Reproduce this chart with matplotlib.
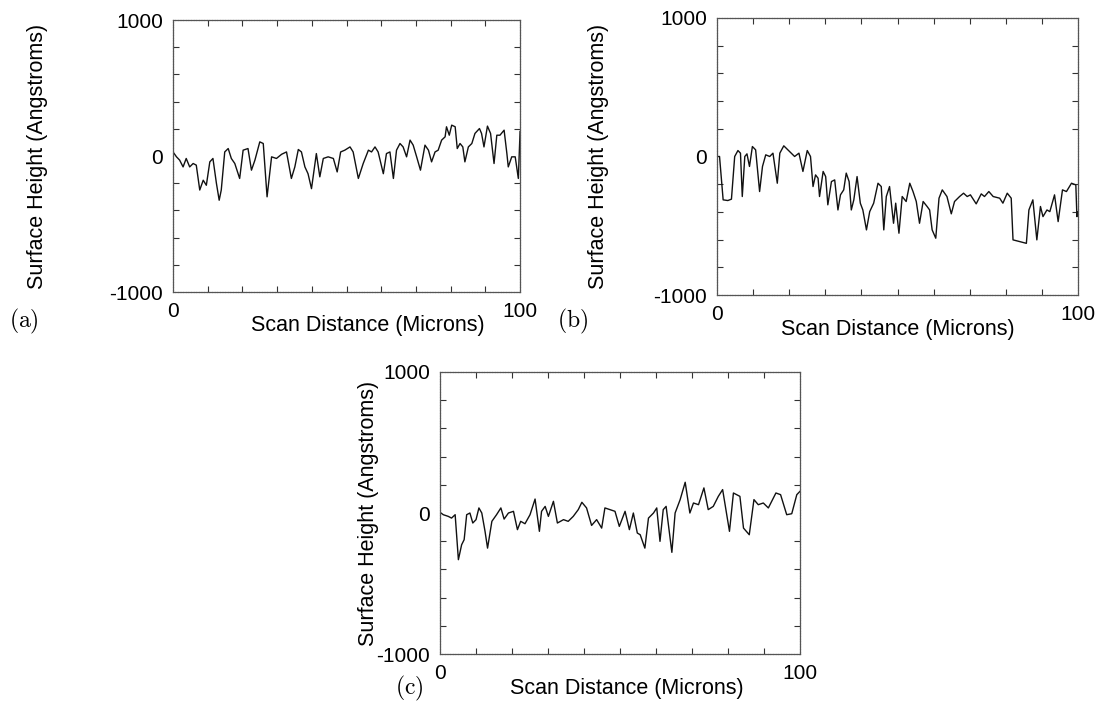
import numpy as np
import matplotlib.pyplot as plt
from matplotlib.ticker import MultipleLocator, FixedLocator

plt.rcParams['font.family'] = ['Liberation Sans', 'DejaVu Sans']
plt.rcParams['mathtext.fontset'] = 'cm'
plt.rcParams['axes.unicode_minus'] = False

# profile (a): scan position (microns) / height (angstroms)
xa = [0.0, 1.0, 1.9, 2.9, 3.8, 4.8, 5.8, 6.7, 7.7, 8.7, 9.6, 10.6, 11.5, 12.5, 13.3, 13.9,
      14.9, 15.9, 16.8, 17.8, 19.2, 20.2, 21.6, 22.6, 23.6, 25.0, 26.0, 27.1, 28.4, 29.8,
      31.3, 32.7, 34.1, 35.1, 36.1, 37.0, 38.0, 38.9, 39.9, 41.3, 42.3, 43.3, 44.7, 46.2,
      47.3, 48.3, 49.5, 51.0, 51.9, 53.4, 54.8, 56.3, 57.2, 58.2, 59.1, 60.6, 61.5, 62.5,
      63.5, 64.4, 65.4, 66.3, 67.3, 68.3, 69.2, 70.2, 71.3, 72.6, 73.6, 74.5, 75.5, 76.4,
      77.4, 78.4, 78.8, 79.6, 80.3, 81.3, 81.9, 82.7, 83.5, 84.1, 85.1, 86.1, 87.0, 88.3,
      88.9, 89.6, 90.6, 91.5, 92.5, 93.3, 94.2, 95.4, 96.2, 96.6, 97.6, 98.6, 99.5, 100.0]
ha = [30, -6, -30, -80, -18, -80, -55, -67, -250, -178, -215, -43, -18, -200, -325, -250,
      30, 55, -18, -55, -165, 43, 55, -104, -30, 104, 92, -300, -6, -18,
      13, 30, -165, -80, 48, 30, -80, -130, -240, 18, -153, -18, -6, -18,
      -117, 30, 43, 67, 30, -165, -55, 43, 30, 67, 30, -130, 18, 30,
      -165, 43, 92, 67, -6, 117, 80, -6, -104, 80, 43, -43, 30, 43,
      117, 141, 215, 153, 227, 215, 55, 92, 67, -43, 67, 92, 166, 202,
      166, 67, 220, 166, -55, 153, 153, 190, 18, -80, -6, -6, -165, 180]

# profile (b)
xb = [0.0, 0.7, 1.7, 3.0, 4.0, 4.9, 5.8, 6.5, 7.0, 7.7, 8.3, 9.0, 9.8, 10.7, 11.8, 12.6,
      13.5, 14.6, 15.5, 16.7, 17.4, 18.5, 20.1, 21.5, 22.7, 23.8, 25.0, 25.9, 26.6, 27.3,
      28.0, 28.4, 29.4, 30.1, 30.7, 31.7, 32.6, 33.5, 34.2, 35.1, 35.8, 36.6, 37.2, 37.9,
      38.8, 39.7, 40.4, 41.4, 42.3, 43.4, 44.6, 45.5, 46.2, 46.9, 47.8, 48.9, 49.5, 50.4,
      51.3, 52.4, 53.4, 54.3, 55.2, 56.1, 57.1, 58.2, 58.9, 59.6, 60.6, 61.5, 62.4, 63.7,
      64.9, 65.8, 67.2, 68.3, 69.3, 70.2, 71.8, 73.2, 74.1, 75.3, 76.5, 78.3, 79.2, 80.4,
      81.5, 82.0, 83.8, 85.7, 86.4, 87.5, 88.6, 89.6, 90.3, 91.4, 92.2, 93.5, 94.5, 95.7,
      96.8, 98.2, 99.4, 99.7, 100.0]
hb = [0, 0, -313, -318, -308, 0, 43, 24, -289, 0, 19, -72, 72, 48, -253, -72,
      12, 0, 24, -193, 24, 77, 36, 0, 24, -108, 43, 0, -217, -133,
      -157, -289, -108, -145, -349, -181, -169, -386, -277, -241, -120, -181, -386, -313,
      -145, -337, -386, -530, -398, -337, -193, -217, -530, -289, -217, -482, -337, -554,
      -289, -325, -193, -253, -325, -482, -325, -361, -386, -530, -590, -301, -241, -289,
      -414, -325, -289, -265, -289, -277, -342, -270, -289, -253, -289, -301, -337, -265,
      -301, -602, -614, -627, -386, -313, -602, -361, -434, -386, -398, -277, -470, -241,
      -253, -193, -205, -434, -400]

# profile (c)
xc = [0.0, 0.9, 2.3, 3.2, 4.2, 5.1, 6.0, 6.7, 7.4, 8.3, 9.1, 10.0, 10.8, 11.6, 12.5, 13.2,
      14.4, 15.7, 16.9, 17.8, 19.0, 20.4, 21.5, 22.4, 23.6, 25.0, 26.4, 27.6, 28.2, 29.2,
      30.1, 31.5, 32.6, 34.3, 35.6, 37.0, 38.4, 39.4, 40.7, 42.1, 43.5, 44.9, 45.8, 47.2,
      48.6, 49.8, 51.4, 52.6, 53.7, 54.8, 55.6, 56.9, 57.9, 59.3, 60.2, 61.1, 62.0, 62.8,
      64.4, 65.3, 66.7, 68.1, 69.4, 70.4, 71.8, 73.3, 74.5, 75.9, 77.3, 78.5, 80.4, 81.5,
      83.3, 84.3, 85.9, 87.2, 88.4, 89.8, 91.2, 93.3, 94.6, 96.3, 97.7, 99.1, 100.0]
hc = [5, -12, -24, -36, -12, -331, -225, -189, -12, 0, -71, -47, 36, 0, -130, -249,
      -59, -12, 36, -43, 0, 12, -118, -59, -76, -12, 99, -130, 12, 47,
      -24, 83, -71, -47, -59, -24, 24, 76, 36, -88, -47, -107, 36, 24,
      12, -95, 12, -118, 0, -142, -154, -249, -36, 0, 36, -201, 24, 47,
      -279, 0, 95, 218, 0, 71, 59, 178, 24, 47, 118, 166, -130, 142,
      118, -107, -154, 95, 59, 71, 36, 142, 130, -12, -5, 130, 154]

panels = [
    # x, y, axes rect, tag, tag pos, ylabel x, xlabel x (axes coords)
    (xa, ha, [0.1563, 0.5972, 0.3135, 0.3752], '(a)', (0.022, 0.556), -0.36, 0.56),
    (xb, hb, [0.6477, 0.5931, 0.3261, 0.3821], '(b)', (0.517, 0.556), -0.30, 0.50),
    (xc, hc, [0.3975, 0.0979, 0.3252, 0.3890], '(c)', (0.370, 0.050), -0.17, 0.52),
]

fig = plt.figure(figsize=(11.07, 7.25), dpi=100)

for x, h, rect, tag, tagpos, ylx, xlx in panels:
    ax = fig.add_axes(rect)
    ax.plot(x, h, color='#111111', lw=1.0)
    ax.set_xlim(0, 100)
    ax.set_ylim(-1000, 1000)
    ax.xaxis.set_major_locator(FixedLocator([0, 100]))
    ax.yaxis.set_major_locator(FixedLocator([-1000, 0, 1000]))
    ax.xaxis.set_minor_locator(MultipleLocator(10))
    ax.yaxis.set_minor_locator(MultipleLocator(200))
    ax.tick_params(which='both', direction='in', top=True, right=True,
                   color='#333333', width=0.8, labelsize=15)
    ax.tick_params(which='major', length=0, pad=7)
    ax.tick_params(which='minor', length=4)
    for s in ax.spines.values():
        s.set_color('#555555')
        s.set_linewidth(0.9)
        s.set_linestyle((0, (1.5, 0.6)))
    ax.set_xlabel('Scan Distance (Microns)', fontsize=15.5)
    ax.xaxis.set_label_coords(xlx, -0.085)
    ax.set_ylabel('Surface Height (Angstroms)', fontsize=15.5)
    ax.yaxis.set_label_coords(ylx, 0.5)
    fig.text(tagpos[0], tagpos[1], r'$\mathrm{' + tag + '}$', fontsize=17,
             ha='center', va='center')

fig.savefig('out.png', dpi=100)
